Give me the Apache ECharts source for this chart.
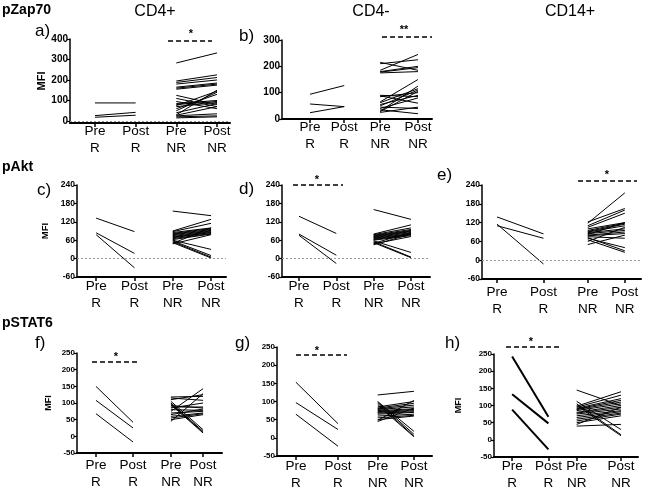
<!DOCTYPE html>
<html>
<head>
<meta charset="utf-8">
<script src="https://cdn.jsdelivr.net/npm/echarts@6/dist/echarts.min.js"></script>
<style>
html,body{margin:0;padding:0;background:#fff;}
#chart{width:648px;height:492px;}
</style>
</head>
<body>
<div id="chart"></div>
<script>
// ---------- DATA ----------
const categories = ['Pre\nR', 'Post\nR', 'Pre\nNR', 'Post\nNR'];
const rowTitles = ['pZap70', 'pAkt', 'pSTAT6'];
const colTitles = ['CD4+', 'CD4-', 'CD14+'];
const panelLetters = ['a)', 'b)', 'c)', 'd)', 'e)', 'f)', 'g)', 'h)'];
const sigLabels = ['*', '**', '', '*', '*', '*', '*', '*'];

// a) pZap70 CD4+
const a_R_pre = [88, 26, 18];
const a_R_post = [88, 42, 28];
const a_NR_pre = [283, 195, 188, 180, 165, 160, 155, 125, 110, 95, 85, 80, 75, 70, 60, 50, 40, 30, 28, 25, 20, 15];
const a_NR_post = [332, 225, 212, 200, 185, 180, 175, 80, 70, 60, 100, 95, 145, 90, 130, 140, 85, 150, 70, 35, 25, 20];
// b) pZap70 CD4-
const b_R_pre = [94, 57, 24];
const b_R_post = [127, 47, 47];
const b_NR_pre = [215, 210, 185, 180, 178, 175, 90, 88, 85, 65, 62, 55, 50, 45, 40, 35, 30, 28, 25];
const b_NR_post = [185, 225, 245, 200, 195, 180, 85, 60, 100, 150, 115, 90, 110, 40, 80, 20, 125, 105, 45];
// c) pAkt CD4+
const c_R_pre = [132, 84, 78];
const c_R_post = [88, 17, -30];
const c_NR_pre = [155, 90, 88, 85, 82, 80, 78, 75, 72, 70, 68, 65, 62, 60, 58, 55, 52, 50, 48];
const c_NR_post = [140, 128, 115, 100, 98, 95, 92, 90, 88, 85, 85, 82, 80, 30, 10, 5, 2, 100, 78];
// d) pAkt CD4-
const d_R_pre = [138, 80, 76];
const d_R_post = [82, 11, -16];
const d_NR_pre = [160, 80, 78, 76, 74, 72, 70, 68, 66, 64, 62, 60, 58, 55, 52, 50, 48, 45];
const d_NR_post = [128, 110, 100, 95, 92, 90, 88, 85, 82, 80, 78, 75, 20, 5, 3, 85, 72, 80];
// e) pAkt CD14+
const e_R_pre = [138, 110, 115];
const e_R_post = [84, 70, -12];
const e_NR_pre = [118, 122, 110, 105, 100, 95, 92, 90, 88, 85, 82, 80, 78, 75, 72, 70, 65, 60, 50];
const e_NR_post = [215, 165, 160, 150, 120, 118, 115, 110, 100, 95, 120, 90, 85, 70, 30, 40, 25, 105, 80];
// f) pSTAT6 CD4+
const f_R_pre = [150, 108, 68];
const f_R_post = [42, 25, -17];
const f_NR_pre = [118, 115, 110, 105, 100, 98, 95, 92, 88, 85, 80, 75, 70, 65, 60, 55, 50, 45];
const f_NR_post = [120, 108, 125, 20, 15, 12, 10, 85, 88, 100, 78, 143, 75, 82, 70, 68, 65, 128];
// g) pSTAT6 CD4-
const g_R_pre = [153, 97, 65];
const g_R_post = [39, 23, -23];
const g_NR_pre = [118, 100, 98, 95, 90, 85, 82, 80, 78, 75, 72, 70, 68, 65, 60, 55, 50, 48, 45];
const g_NR_post = [128, 18, 10, 5, 3, 100, 95, 90, 85, 80, 78, 75, 72, 70, 65, 62, 60, 103, 82];
// h) pSTAT6 CD14+
const h_R_pre = [243, 133, 88];
const h_R_post = [67, 48, -28];
const h_NR_pre = [145, 112, 105, 100, 98, 95, 92, 90, 88, 85, 80, 78, 75, 70, 65, 60, 55, 50, 45, 40];
const h_NR_post = [100, 30, 15, 12, 140, 130, 120, 115, 110, 105, 100, 95, 90, 85, 82, 78, 75, 70, 95, 45];

const yTicksA = [0, 100, 200, 300, 400];
const yTicksB = [0, 100, 200, 300];
const yTicksAkt = [-60, 0, 60, 120, 180, 240];
const yTicksStat = [-50, 0, 50, 100, 150, 200, 250];

// ---------- LAYOUT ----------
const FONT = '"Liberation Sans", Arial, sans-serif';
const panels = [
  {L:70, R:230, T:39, B:123, ymin:-10, ymax:400, yt:yTicksA, xmin:0.386, xmax:4.32, pos:[1,2,3,4], mfi:true, yfs:10, nameGap:20, lm:0, zero:true, rw:1,
   data:[a_R_pre,a_R_post,a_NR_pre,a_NR_post], letter:[35,33], sig:[168,212,41], star:[191,34]},
  {L:282, R:432, T:40, B:119, ymin:0, ymax:300, yt:yTicksB, xmin:0.22, xmax:4.39, pos:[1,1.95,2.95,4], mfi:false, yfs:10, lm:0, zero:false, rw:1,
   data:[b_R_pre,b_R_post,b_NR_pre,b_NR_post], letter:[239,38], sig:[382,432,37], star:[404,30]},
  {L:77, R:226, T:185, B:277, ymin:-60, ymax:240, yt:yTicksAkt, xmin:0.5, xmax:4.39, pos:[1,2,3,4], mfi:true, yfs:8.5, nameGap:27, lm:1, zero:true, rw:1,
   data:[c_R_pre,c_R_post,c_NR_pre,c_NR_post], letter:[37,192], sig:null},
  {L:282, R:430, T:185, B:277, ymin:-60, ymax:240, yt:yTicksAkt, xmin:0.545, xmax:4.51, pos:[1,2,3,4], mfi:false, yfs:8.5, lm:1, zero:true, rw:1,
   data:[d_R_pre,d_R_post,d_NR_pre,d_NR_post], letter:[239,191], sig:[293,343,185], star:[317,180]},
  {L:482, R:641, T:185, B:279, ymin:-60, ymax:240, yt:yTicksAkt, xmin:0.646, xmax:4.38, pos:[1,2.09,3.13,4], mfi:false, yfs:8.5, lm:5, zero:true, rw:1,
   data:[e_R_pre,e_R_post,e_NR_pre,e_NR_post], letter:[437,177], sig:[578,637,181], star:[607,175]},
  {L:77, R:222, T:353, B:453, ymin:-50, ymax:250, yt:yTicksStat, xmin:0.47, xmax:4.53, pos:[1,2.04,3.1,4], mfi:true, yfs:8, nameGap:24, lm:4, zero:false, rw:1,
   data:[f_R_pre,f_R_post,f_NR_pre,f_NR_post], letter:[35,345], sig:[92,138,362], star:[116,357]},
  {L:277, R:432, T:347, B:457, ymin:-50, ymax:250, yt:yTicksStat, xmin:0.52, xmax:4.46, pos:[1,2.07,3.08,4], mfi:false, yfs:8, lm:2, zero:false, rw:1,
   data:[g_R_pre,g_R_post,g_NR_pre,g_NR_post], letter:[235,345], sig:[296,347,355], star:[317,351]},
  {L:494, R:638, T:354, B:457, ymin:-50, ymax:250, yt:yTicksStat, xmin:0.5, xmax:4.47, pos:[1,2,2.78,4], mfi:true, yfs:8, nameGap:31, lm:0.5, zero:false, rw:2,
   data:[h_R_pre,h_R_post,h_NR_pre,h_NR_post], letter:[445,345], sig:[506,561,347], star:[531,342]}
];

const grids = [], xAxes = [], yAxes = [], series = [], graphics = [];

panels.forEach((P, i) => {
  grids.push({left:P.L, top:P.T, width:P.R - P.L, height:P.B - P.T, containLabel:false});
  const pos = P.pos;
  xAxes.push({
    type:'value', gridIndex:i, min:P.xmin, max:P.xmax,
    splitLine:{show:false},
    axisLine:{show:true, onZero:false, lineStyle:{color:'#000', width:2}},
    axisTick:{show:true, length:4, customValues:pos, lineStyle:{color:'#000', width:1.5}},
    axisLabel:{show:true, customValues:pos, margin:P.lm, color:'#000', fontFamily:FONT, fontSize:13.5, lineHeight:17,
      formatter:(v) => { const k = pos.findIndex(p => Math.abs(p - v) < 1e-6); return k >= 0 ? categories[k] : ''; }}
  });
  yAxes.push({
    type:'value', gridIndex:i, min:P.ymin, max:P.ymax,
    splitLine:{show:false},
    name:P.mfi ? 'MFI' : '', nameLocation:'middle', nameRotate:90, nameGap:P.nameGap || 20,
    nameTextStyle:{color:'#000', fontFamily:FONT, fontWeight:'bold', fontSize:P.yfs + 1},
    axisLine:{show:true, onZero:false, lineStyle:{color:'#000', width:1.5}},
    axisTick:{show:true, length:3, customValues:P.yt, lineStyle:{color:'#000', width:1.2}},
    axisLabel:{show:true, customValues:P.yt, margin:2, color:'#000', fontFamily:FONT, fontWeight:'bold', fontSize:P.yfs}
  });
  const [Rpre, Rpost, NRpre, NRpost] = P.data;
  if (P.zero) {
    series.push({type:'line', xAxisIndex:i, yAxisIndex:i, data:[], silent:true,
      markLine:{silent:true, symbol:'none', label:{show:false}, animation:false,
        lineStyle:{color:'#999', type:[2,2], width:1}, data:[{yAxis:0}]}});
  }
  Rpre.forEach((v, k) => {
    series.push({type:'line', xAxisIndex:i, yAxisIndex:i, symbol:'none', silent:true, animation:false,
      lineStyle:{color:'#000', width:P.rw}, data:[[pos[0], v], [pos[1], Rpost[k]]]});
  });
  NRpre.forEach((v, k) => {
    series.push({type:'line', xAxisIndex:i, yAxisIndex:i, symbol:'none', silent:true, animation:false,
      lineStyle:{color:'#000', width:1}, data:[[pos[2], v], [pos[3], NRpost[k]]]});
  });
  graphics.push({type:'text', left:P.letter[0], top:P.letter[1] - 10,
    style:{text:panelLetters[i], font:'17px ' + FONT, fill:'#000'}});
  if (P.sig) {
    graphics.push({type:'line', shape:{x1:P.sig[0], y1:P.sig[2], x2:P.sig[1], y2:P.sig[2]},
      style:{stroke:'#000', lineWidth:1.5, lineDash:[5,3]}});
    graphics.push({type:'text', x:P.star[0], y:P.star[1],
      style:{text:sigLabels[i], font:'bold 11px ' + FONT, fill:'#000', align:'center', verticalAlign:'middle'}});
  }
});

// row and column titles
graphics.push({type:'text', x:2, y:10, style:{text:rowTitles[0], font:'bold 14px ' + FONT, fill:'#000', verticalAlign:'middle'}});
graphics.push({type:'text', x:2, y:167, style:{text:rowTitles[1], font:'bold 14px ' + FONT, fill:'#000', verticalAlign:'middle'}});
graphics.push({type:'text', x:2, y:323, style:{text:rowTitles[2], font:'bold 14px ' + FONT, fill:'#000', verticalAlign:'middle'}});
graphics.push({type:'text', x:155, y:12, style:{text:colTitles[0], font:'16px ' + FONT, fill:'#000', align:'center', verticalAlign:'middle'}});
graphics.push({type:'text', x:371, y:12, style:{text:colTitles[1], font:'16px ' + FONT, fill:'#000', align:'center', verticalAlign:'middle'}});
graphics.push({type:'text', x:570, y:12, style:{text:colTitles[2], font:'16px ' + FONT, fill:'#000', align:'center', verticalAlign:'middle'}});

const chart = echarts.init(document.getElementById('chart'), null, {renderer:'canvas'});
chart.setOption({
  animation:false,
  backgroundColor:'#fff',
  grid:grids, xAxis:xAxes, yAxis:yAxes, series:series, graphic:graphics
});
</script>
</body>
</html>
